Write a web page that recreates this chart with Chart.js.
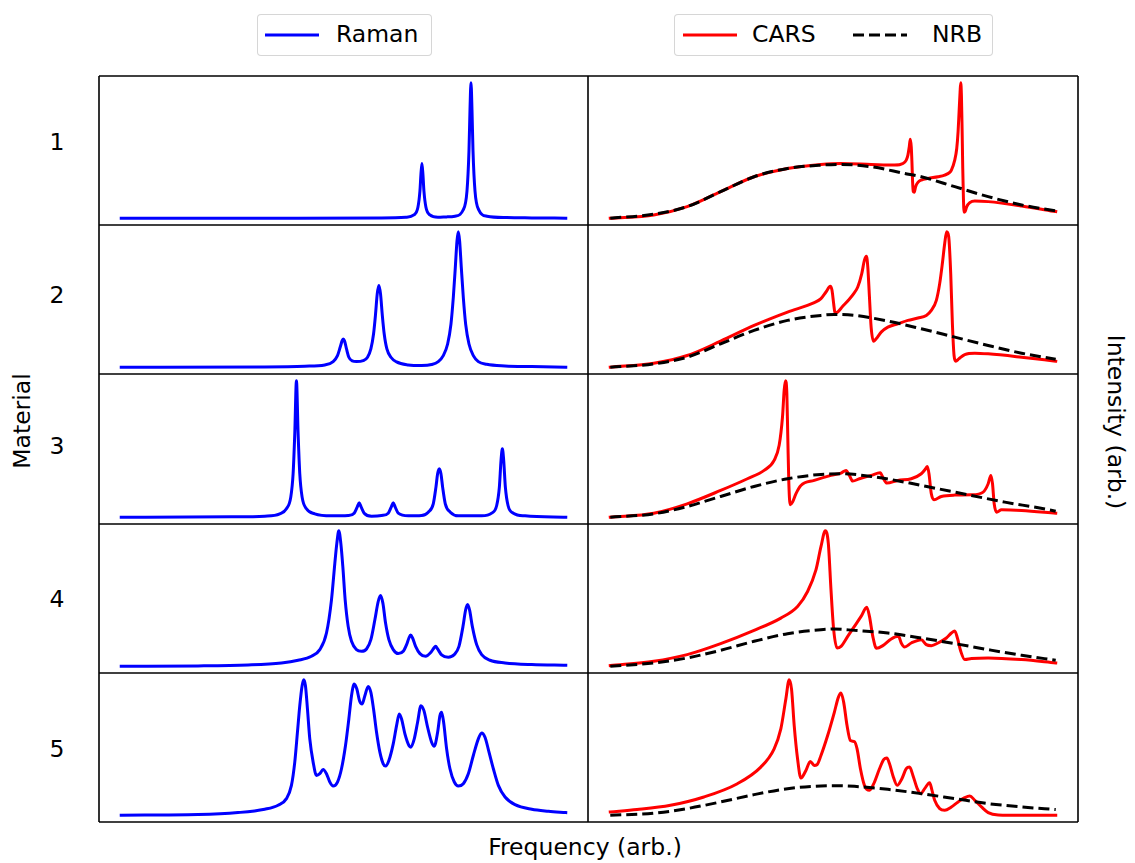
<!DOCTYPE html>
<html>
<head>
<meta charset="utf-8">
<script src="https://cdn.jsdelivr.net/npm/chart.js@4.4.0/dist/chart.umd.min.js"></script>
<style>
  html, body { margin: 0; padding: 0; background: #fff; }
  #fig { position: relative; width: 1135px; height: 863px; overflow: hidden;
         font-family: "DejaVu Sans", sans-serif; color: #000; }
  .panel { position: absolute; }
  .txt { position: absolute; font-size: 23.5px; line-height: 1; white-space: nowrap; }
  .center { transform: translate(-50%, -50%); }
  .ltxt { transform: translateY(-50%); top: 20px; }
  .legend { position: absolute; box-sizing: border-box; border: 1px solid rgba(204,204,204,0.8);
            border-radius: 4px; background: rgba(255,255,255,0.8); }
  #frame { position: absolute; left: 0; top: 0; pointer-events: none; }
</style>
</head>
<body>
<div id="fig">
  <div class="legend" style="left:257px;top:14px;width:175px;height:42px;">
    <svg style="position:absolute;left:7px;top:18px" width="54" height="4"><line x1="0" y1="2" x2="54" y2="2" stroke="#0000ff" stroke-width="3"/></svg>
    <span class="txt ltxt" style="left:78px;">Raman</span>
  </div>
  <div class="legend" style="left:674px;top:14px;width:319px;height:42px;">
    <svg style="position:absolute;left:8px;top:18px" width="54" height="4"><line x1="0" y1="2" x2="54" y2="2" stroke="#ff0000" stroke-width="3"/></svg>
    <span class="txt ltxt" style="left:77px;">CARS</span>
    <svg style="position:absolute;left:178px;top:18px" width="54" height="4"><line x1="0" y1="2" x2="54" y2="2" stroke="#000" stroke-width="3" stroke-dasharray="11 5"/></svg>
    <span class="txt ltxt" style="left:257px;">NRB</span>
  </div>
  <span class="txt center" style="left:57px;top:143px;">1</span>
  <span class="txt center" style="left:57px;top:296px;">2</span>
  <span class="txt center" style="left:57px;top:447px;">3</span>
  <span class="txt center" style="left:57px;top:600px;">4</span>
  <span class="txt center" style="left:57px;top:750px;">5</span>
  <span class="txt" style="left:23px;top:421px;transform:translate(-50%,-50%) rotate(-90deg);">Material</span>
  <span class="txt" style="left:1115px;top:422px;transform:translate(-50%,-50%) rotate(90deg);">Intensity (arb.)</span>
  <span class="txt center" style="left:585px;top:848px;">Frequency (arb.)</span>
  <canvas id="frame" width="1135" height="863"></canvas>
</div>
<script>
// Spectra as [frequency, intensity] pairs, arbitrary units.
const raman1 = [[5,0],[535,0],[785,1],[858,3],[882,10],[894,33],[900,82],[903,132],[906,165],[909,132],[912,82],[918,33],[930,10],[954,3],[980,4],[1005,6],[1029,24],[1041,82],[1047,204],[1050,326],[1053,408],[1056,326],[1059,204],[1065,82],[1077,24],[1101,6],[1160,2],[1235,1],[1337,0]];
const cars1 = [[5,0],[135,10],[235,35],[335,80],[435,125],[535,150],[635,162],[695,165],[785,162],[855,160],[880,165],[890,175],[895,190],[899,215],[902,238],[905,215],[907,170],[909,110],[911,80],[914,78],[918,95],[925,108],[935,115],[955,120],[985,125],[1005,130],[1020,138],[1025,145],[1035,175],[1041,210],[1045,260],[1048,320],[1051,380],[1053,408],[1055,370],[1057,270],[1059,150],[1061,60],[1063,18],[1066,20],[1071,35],[1080,47],[1095,52],[1135,50],[1235,37],[1337,20]];
const nrb1 = [[5,0],[135,12],[235,35],[335,80],[435,125],[535,150],[635,160],[695,162],[785,155],[885,135],[935,125],[1035,95],[1135,65],[1235,40],[1337,22]];

const raman2 = [[5,0],[435,1],[555,3],[615,7],[640,17],[653,35],[661,60],[667,80],[670,85],[674,80],[680,55],[687,30],[697,19],[710,17],[730,20],[743,30],[753,55],[761,100],[767,160],[772,220],[777,246],[782,220],[787,160],[793,100],[801,55],[813,30],[830,16],[865,7],[905,5],[935,8],[955,17],[970,35],[983,70],[993,130],[1000,210],[1006,300],[1011,380],[1015,408],[1019,380],[1024,300],[1030,210],[1037,130],[1047,70],[1060,35],[1075,17],[1100,9],[1155,4],[1235,2],[1337,0]];
const cars2 = [[5,0],[135,12],[235,35],[335,78],[435,125],[535,165],[615,193],[635,205],[650,225],[663,242],[668,230],[673,190],[677,162],[685,165],[700,182],[715,198],[733,220],[745,240],[757,280],[765,320],[771,332],[775,300],[780,210],[785,120],[792,78],[800,85],[815,105],[835,120],[865,130],[895,140],[925,147],[950,155],[965,170],[980,200],[990,250],[998,310],[1005,370],[1011,405],[1017,390],[1023,280],[1028,130],[1033,35],[1038,18],[1047,25],[1065,38],[1095,42],[1135,40],[1235,30],[1337,18]];
const nrb2 = [[5,0],[135,10],[235,30],[335,70],[435,110],[535,140],[635,155],[675,158],[735,155],[835,138],[935,115],[1035,90],[1135,65],[1235,42],[1337,24]];

const raman3 = [[5,0],[335,1],[435,3],[480,10],[500,25],[513,60],[520,130],[525,250],[530,408],[535,250],[540,130],[547,60],[560,25],[585,10],[635,4],[685,5],[703,12],[712,30],[718,43],[724,30],[733,12],[755,3],[785,5],[805,12],[814,30],[820,43],[826,30],[835,12],[865,4],[905,5],[925,15],[940,40],[948,90],[953,130],[958,145],[963,130],[968,90],[976,40],[991,15],[1015,4],[1085,4],[1115,12],[1130,35],[1138,90],[1143,170],[1147,205],[1151,170],[1156,90],[1164,35],[1180,12],[1215,4],[1337,0]];
const cars3 = [[5,0],[135,12],[235,40],[335,80],[415,115],[465,140],[495,170],[510,215],[520,300],[525,380],[529,408],[533,370],[536,230],[539,100],[543,37],[550,45],[560,70],[575,95],[615,110],[665,125],[695,132],[710,140],[720,125],[730,108],[750,115],[785,125],[812,133],[822,115],[832,102],[865,110],[905,115],[935,130],[948,145],[953,152],[958,130],[965,70],[973,52],[995,62],[1035,66],[1085,67],[1120,75],[1135,100],[1143,125],[1148,100],[1153,40],[1160,15],[1175,22],[1235,20],[1337,12]];
const nrb3 = [[5,0],[135,10],[235,32],[335,62],[435,92],[535,115],[635,128],[695,130],[785,122],[885,105],[985,85],[1085,65],[1185,45],[1285,28],[1337,18]];

const raman4 = [[5,0],[235,1],[385,4],[485,10],[535,18],[575,30],[600,50],[620,100],[635,200],[645,310],[651,370],[657,408],[663,370],[669,300],[676,200],[685,120],[695,75],[710,50],[725,45],[740,52],[753,80],[765,140],[775,195],[782,213],[789,190],[797,130],[807,80],[820,50],[835,38],[850,45],[860,65],[867,85],[872,94],[878,85],[887,60],[900,38],[917,30],[933,42],[942,55],[947,60],[953,52],[965,34],[985,27],[1003,35],[1017,60],[1029,120],[1037,170],[1043,186],[1049,168],[1057,120],[1070,65],[1085,35],[1110,18],[1155,10],[1235,5],[1337,3]];
const cars4 = [[5,2],[135,15],[235,35],[335,68],[435,108],[515,145],[565,180],[595,225],[620,290],[635,360],[648,408],[657,370],[665,230],[673,110],[683,55],[695,60],[715,90],[735,120],[755,150],[772,178],[780,150],[790,90],[801,54],[820,62],[845,82],[867,90],[875,70],[885,58],[905,70],[935,80],[950,65],[965,62],[985,70],[1010,85],[1025,100],[1035,106],[1043,85],[1053,45],[1065,20],[1085,23],[1135,25],[1235,20],[1337,10]];
const nrb4 = [[5,0],[135,10],[235,25],[335,48],[435,75],[535,98],[635,110],[675,112],[735,108],[835,100],[935,85],[1035,68],[1135,50],[1235,33],[1337,18]];

const raman5 = [[5,0],[235,2],[355,8],[435,18],[475,30],[500,50],[515,90],[525,160],[533,250],[540,330],[547,390],[552,408],[557,390],[563,320],[570,230],[580,160],[590,120],[600,125],[610,138],[620,125],[630,100],[640,88],[653,100],[665,140],[677,210],[687,290],[695,360],[703,395],[711,380],[719,345],[727,335],[735,360],[745,388],[753,370],[761,320],[770,250],[780,190],[790,155],[797,148],[807,165],[820,215],[830,270],[838,305],[845,290],[855,245],[867,210],[873,205],[883,230],[893,280],[903,330],[912,315],[923,265],[935,220],[943,208],[953,250],[960,300],[965,310],[971,280],[980,200],[990,140],[1003,100],[1015,88],[1030,95],[1045,125],[1060,180],[1075,230],[1085,248],[1095,235],[1107,190],[1120,140],[1135,90],[1155,55],[1185,32],[1235,18],[1285,12],[1337,8]];
const cars5 = [[5,10],[85,17],[185,30],[285,55],[385,95],[455,145],[495,200],[515,260],[530,350],[540,408],[547,380],[555,270],[565,170],[575,112],[590,135],[603,162],[615,150],[623,152],[635,180],[655,240],[675,310],[687,355],[695,368],[703,340],[713,270],[723,225],[735,222],[743,200],[753,140],[765,90],[780,75],[795,100],[810,140],[823,168],[832,172],[840,155],[850,120],[863,90],[877,110],[890,140],[900,145],[910,120],[923,80],[933,65],[945,80],[960,98],[967,75],[975,45],[990,20],[1005,15],[1025,25],[1045,40],[1065,53],[1080,58],[1095,45],[1115,25],[1135,8],[1165,1],[1235,0],[1337,0]];
const nrb5 = [[5,0],[135,6],[235,20],[335,40],[435,62],[535,80],[635,88],[675,89],[735,87],[835,78],[935,65],[1035,50],[1135,35],[1235,25],[1337,17]];

const materials = ['1', '2', '3', '4', '5'];
const ramanSeries = [raman1, raman2, raman3, raman4, raman5];
const carsSeries = [cars1, cars2, cars3, cars4, cars5];
const nrbSeries = [nrb1, nrb2, nrb3, nrb4, nrb5];

// Grid geometry of the 5x2 panel layout (page pixels).
const colX = [99, 588, 1078];
const rowY = [76, 225, 374, 524, 673, 822];

const fig = document.getElementById('fig');

function toPoints(pairs) { return pairs.map(p => ({ x: p[0], y: p[1] })); }

// 5% padding around the data extent on each axis
function paddedRange(seriesList, idx) {
  let lo = Infinity, hi = -Infinity;
  seriesList.forEach(s => s.forEach(p => { lo = Math.min(lo, p[idx]); hi = Math.max(hi, p[idx]); }));
  const pad = (hi - lo) * 0.05;
  return [lo - pad, hi + pad];
}

function makePanel(col, row, datasets, rawSeries) {
  const left = colX[col], top = rowY[row];
  const w = colX[col + 1] - left, h = rowY[row + 1] - top;
  const holder = document.createElement('div');
  holder.className = 'panel';
  holder.style.left = left + 'px';
  holder.style.top = top + 'px';
  holder.style.width = w + 'px';
  holder.style.height = h + 'px';
  const cv = document.createElement('canvas');
  cv.width = w; cv.height = h;
  holder.appendChild(cv);
  fig.insertBefore(holder, document.getElementById('frame'));
  const xr = paddedRange(rawSeries, 0);
  const yr = paddedRange(rawSeries, 1);
  new Chart(cv, {
    type: 'line',
    data: { datasets },
    options: {
      responsive: false,
      animation: false,
      devicePixelRatio: 1,
      layout: { padding: 0 },
      plugins: { legend: { display: false }, tooltip: { enabled: false } },
      elements: { point: { radius: 0 }, line: { cubicInterpolationMode: 'monotone' } },
      scales: {
        x: { type: 'linear', display: false, min: xr[0], max: xr[1] },
        y: { type: 'linear', display: false, min: yr[0], max: yr[1] }
      }
    }
  });
}

for (let r = 0; r < materials.length; r++) {
  makePanel(0, r, [
    { label: 'Raman', data: toPoints(ramanSeries[r]), borderColor: '#0000ff', borderWidth: 3,
      borderCapStyle: 'square', fill: false }
  ], [ramanSeries[r]]);
  makePanel(1, r, [
    { label: 'NRB', data: toPoints(nrbSeries[r]), borderColor: '#000000', borderWidth: 3,
      borderDash: [11, 5], fill: false, order: 0 },
    { label: 'CARS', data: toPoints(carsSeries[r]), borderColor: '#ff0000', borderWidth: 3,
      borderCapStyle: 'square', fill: false, order: 1 }
  ], [carsSeries[r], nrbSeries[r]]);
}

// Axes frames around every panel
const fctx = document.getElementById('frame').getContext('2d');
fctx.strokeStyle = '#000';
fctx.lineWidth = 1.6;
colX.forEach(x => { fctx.beginPath(); fctx.moveTo(x, rowY[0]); fctx.lineTo(x, rowY[5]); fctx.stroke(); });
rowY.forEach(y => { fctx.beginPath(); fctx.moveTo(colX[0], y); fctx.lineTo(colX[2], y); fctx.stroke(); });
</script>
</body>
</html>
